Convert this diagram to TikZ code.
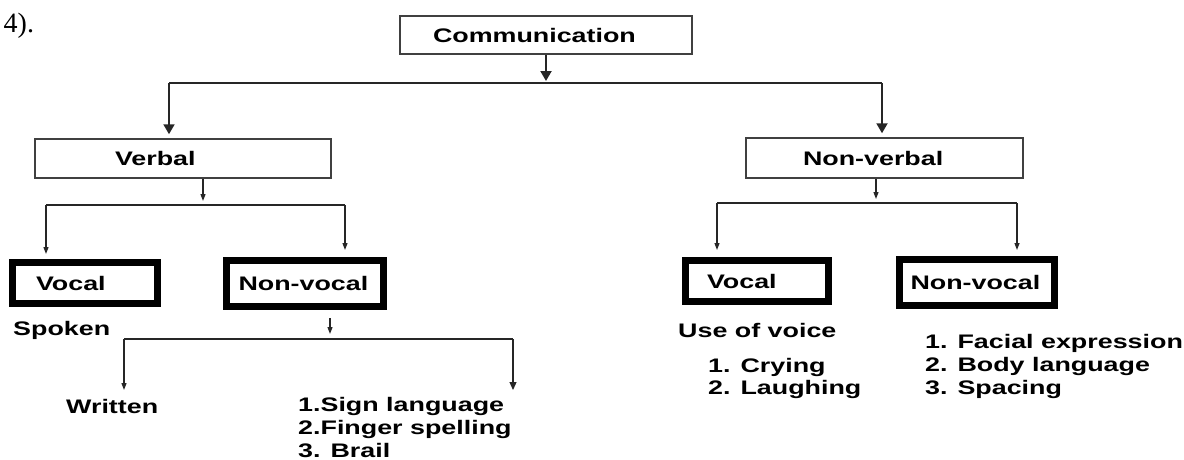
\documentclass[tikz,border=0pt]{standalone}
\usepackage{fontspec}
\newfontfamily\chartfont[FakeStretch=1.37]{Liberation Sans}
\newfontfamily\pagefont{Liberation Serif}
\usetikzlibrary{arrows.meta}

\begin{document}
\begin{tikzpicture}[x = 1pt, y = -1pt,
    txt/.style = {font = \chartfont\bfseries\fontsize{19.6}{23}\selectfont, inner sep = 0pt, anchor = base west},
    box/.style = {txt, anchor = center, draw = black!75, line width = 1.5pt, align = left, inner ysep = 0pt},
    heavybox/.style = {box, draw = black, line width = 7pt},
    mainline/.style = {draw = black!85, line width = 2pt},
    mainarrow/.style = {mainline, -{Triangle[width = 11pt, length = 10pt]}},
    subline/.style = {draw = black!85, line width = 1.2pt},
    subarrow/.style = {subline, -{Triangle[width = 5pt, length = 7pt]}},
    ]
    \useasboundingbox (0, 0) rectangle (1184, 459);
    \node[anchor = base west, inner sep = 0pt, font = \pagefont\fontsize{28}{30}\selectfont] (pageref) at (3.5, 32) {4).};

    % top level
    \node[box, inner xsep = 33pt, text width = 226pt, minimum height = 38pt] (comm) at (546, 35) {Communication};
    \node[box, inner xsep = 80pt, text width = 136pt, minimum height = 39pt] (verbal) at (183, 158.5) {Verbal};
    \node[box, inner xsep = 57pt, text width = 163pt, minimum height = 40pt] (nonverbal) at (884.5, 158) {Non-verbal};

    % second level
    \node[heavybox, inner xsep = 23.5pt, text width = 98pt, minimum height = 41pt] (vocalL) at (85, 283) {Vocal};
    \node[heavybox, inner xsep = 12pt, text width = 133pt, minimum height = 46pt] (nonvocalL) at (305, 283.5) {Non-vocal};
    \node[heavybox, inner xsep = 21.5pt, text width = 100pt, minimum height = 41pt] (vocalR) at (757, 281) {Vocal};
    \node[heavybox, inner xsep = 11pt, text width = 133pt, minimum height = 46pt] (nonvocalR) at (977, 282.5) {Non-vocal};

    % leaves
    \node[txt] (spoken) at (13, 335) {Spoken};
    \node[txt] (written) at (66, 413) {Written};
    \node[txt] (sign1) at (298, 411) {1.Sign language};
    \node[txt] (sign2) at (298, 434.5) {2.Finger spelling};
    \node[txt] (sign3) at (298, 457) {3. Brail};
    \node[txt] (voice) at (678, 337) {Use of voice};
    \node[txt] (voice1) at (708, 372) {1. Crying};
    \node[txt] (voice2) at (708, 394) {2. Laughing};
    \node[txt] (body1) at (925, 348) {1. Facial expression};
    \node[txt] (body2) at (925, 371) {2. Body language};
    \node[txt] (body3) at (925, 394) {3. Spacing};

    % connectors
    \coordinate (commL) at (169, 83);
    \coordinate (commR) at (882, 83);
    \draw[mainarrow, shorten > = 2pt] (comm.south) -- (comm.south |- commL);
    \draw[mainline] (commL) -- (commR);
    \draw[mainarrow, shorten > = 4pt] (commL) -- (commL |- verbal.north);
    \draw[mainarrow, shorten > = 4pt] (commR) -- (commR |- nonverbal.north);

    \coordinate (verbalM) at (203, 205);
    \coordinate (verbalL) at (46, 205);
    \coordinate (verbalR) at (345, 205);
    \draw[subarrow, shorten > = 4pt] (verbalM |- verbal.south) -- (verbalM);
    \draw[subline] (verbalL) -- (verbalR);
    \draw[subarrow, shorten > = 5pt] (verbalL) -- (verbalL |- vocalL.north);
    \draw[subarrow, shorten > = 7pt] (verbalR) -- (verbalR |- nonvocalL.north);

    \coordinate (nonverbalM) at (876, 203);
    \coordinate (nonverbalL) at (717, 203);
    \coordinate (nonverbalR) at (1017, 203);
    \draw[subarrow, shorten > = 4pt] (nonverbalM |- nonverbal.south) -- (nonverbalM);
    \draw[subline] (nonverbalL) -- (nonverbalR);
    \draw[subarrow, shorten > = 7pt] (nonverbalL) -- (nonverbalL |- vocalR.north);
    \draw[subarrow, shorten > = 6pt] (nonverbalR) -- (nonverbalR |- nonvocalR.north);

    \coordinate (signM) at (330, 339);
    \coordinate (signL) at (124, 339);
    \coordinate (signR) at (513, 339);
    \coordinate (writtenTop) at (124, 390);
    \coordinate (signTop) at (513, 390);
    \draw[subarrow, shorten < = 8pt, shorten > = 5pt] (signM |- nonvocalL.south) -- (signM);
    \draw[subline] (signL) -- (signR);
    \draw[subarrow] (signL) -- (writtenTop);
    \draw[subarrow, -{Triangle[width = 7pt, length = 8pt]}] (signR) -- (signTop);
\end{tikzpicture}
\end{document}
